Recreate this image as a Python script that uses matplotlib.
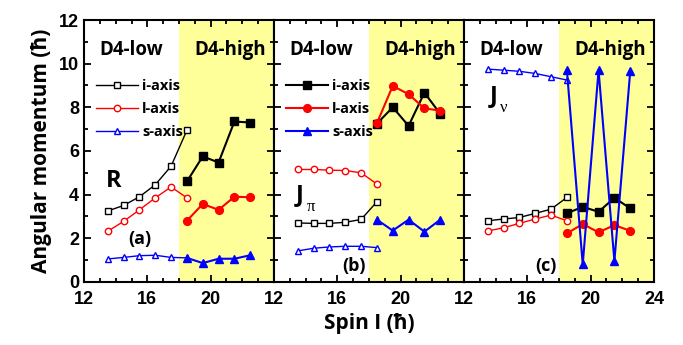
from matplotlib import pyplot as plt
from matplotlib.ticker import MultipleLocator

plt.rcParams['font.family'] = ['Open Sans', 'DejaVu Sans']
plt.rcParams['font.weight'] = 'bold'

# Spin values
spin_low = [13.5, 14.5, 15.5, 16.5, 17.5, 18.5]
spin_high = [18.5, 19.5, 20.5, 21.5, 22.5]

# (a) R
r_i_low = [3.25, 3.5, 3.9, 4.45, 5.3, 6.95]
r_l_low = [2.32, 2.77, 3.3, 3.85, 4.35, 3.85]
r_s_low = [1.05, 1.12, 1.2, 1.22, 1.12, 1.1]
r_i_high = [4.6, 5.75, 5.47, 7.35, 7.3]
r_l_high = [2.8, 3.57, 3.3, 3.9, 3.88]
r_s_high = [1.1, 0.86, 1.06, 1.06, 1.22]

# (b) J_pi
jp_i_low = [2.7, 2.68, 2.68, 2.73, 2.86, 3.67]
jp_l_low = [5.15, 5.15, 5.12, 5.1, 5.0, 4.48]
jp_s_low = [1.42, 1.54, 1.6, 1.63, 1.63, 1.57]
jp_i_high = [7.25, 8.0, 7.15, 8.67, 7.7]
jp_l_high = [7.27, 8.98, 8.6, 7.95, 7.85]
jp_s_high = [2.85, 2.35, 2.85, 2.3, 2.85]

# (c) J_nu
jn_i_low = [2.8, 2.88, 2.95, 3.14, 3.33, 3.87]
jn_l_low = [2.33, 2.48, 2.68, 2.88, 3.06, 2.8]
jn_s_low = [9.75, 9.7, 9.65, 9.55, 9.4, 9.25]
jn_i_high = [3.14, 3.44, 3.21, 3.85, 3.37]
jn_l_high = [2.22, 2.65, 2.27, 2.6, 2.34]
jn_s_high = [9.7, 0.8, 9.7, 0.95, 9.65]

panels = [
    ('R', None, '(a)', (r_i_low, r_l_low, r_s_low), (r_i_high, r_l_high, r_s_high)),
    ('J', 'π', '(b)', (jp_i_low, jp_l_low, jp_s_low), (jp_i_high, jp_l_high, jp_s_high)),
    ('J', 'ν', '(c)', (jn_i_low, jn_l_low, jn_s_low), (jn_i_high, jn_l_high, jn_s_high)),
]
names = ['i-axis', 'l-axis', 's-axis']
clrs = ['black', 'red', 'blue']
mks = ['s', 'o', '^']
ms_open = [4.0, 4.6, 4.6]
ms_fill = [5.2, 5.6, 5.8]

# positions of the panel labels (x, y) in data units
name_pos = [(13.85, 4.6), (13.6, 4.0), (13.85, 8.5)]
tag_pos = [(15.55, 1.97), (17.05, 0.72), (17.2, 0.72)]

fig = plt.figure(figsize=(6.83, 3.45), dpi=100)
left, right, bottom, top = 0.123, 0.9575, 0.183, 0.942
w = (right - left) / 3

for k, (name, sub, tag, low, high) in enumerate(panels):
    ax = fig.add_axes([left + k * w, bottom, w, top - bottom])
    ax.axvspan(18, 24, color='#FFFF99', zorder=0, lw=0)
    h = []
    for j in range(3):
        ln, = ax.plot(spin_low, low[j], color=clrs[j], marker=mks[j], ms=ms_open[j],
                      mfc='white', mec=clrs[j], mew=1.0, lw=1.0)
        ln2, = ax.plot(spin_high, high[j], color=clrs[j], marker=mks[j], ms=ms_fill[j],
                       mfc=clrs[j], mec=clrs[j], lw=1.5)
        h.append((ln, ln2))
    ax.set_xlim(12, 24)
    ax.set_ylim(0, 12)
    ax.set_xticks([12, 16, 20, 24])
    ax.set_xticklabels(['12', '16', '20', '24' if k == 2 else ''])
    ax.xaxis.set_minor_locator(MultipleLocator(1))
    ax.yaxis.set_major_locator(MultipleLocator(2))
    ax.yaxis.set_minor_locator(MultipleLocator(1))
    ax.tick_params(which='both', direction='in', top=True, right=True, width=1.3)
    ax.tick_params(which='major', length=5, labelsize=13)
    ax.tick_params(axis='x', which='major', pad=6.5)
    ax.tick_params(which='minor', length=3)
    for s in ax.spines.values():
        s.set_linewidth(1.5)
    if k > 0:
        ax.set_yticklabels([])
    for lab in ax.get_xticklabels() + ax.get_yticklabels():
        lab.set_fontweight('bold')
        lab.set_family(['Liberation Sans', 'DejaVu Sans'])
    ax.text(13.0, 10.62, 'D4-low', fontsize=13.5, fontweight='bold', va='center')
    ax.text(19.0, 10.62, 'D4-high', fontsize=13.5, fontweight='bold', va='center')
    if k < 2:
        idx = 0 if k == 0 else 1
        ax.legend([p[idx] for p in h], names, loc='upper left', bbox_to_anchor=(0.03, 0.797),
                  frameon=False, fontsize=10.5, handlelength=2.9, labelspacing=0.62,
                  handletextpad=0.3, borderaxespad=0.2, borderpad=0.2)
    nx, ny = name_pos[k]
    ax.text(nx, ny, name, fontsize=17, fontweight='bold', va='center', ha='center')
    if sub is not None:
        ax.text(nx + 0.45, ny - 0.55, sub, fontsize=12, fontweight='normal', va='center',
                ha='left', family=['Liberation Serif', 'DejaVu Serif'])
    tx, ty = tag_pos[k]
    ax.text(tx, ty, tag, fontsize=13, fontweight='bold', va='center', ha='center')
    if k == 1:
        ax.set_xlabel('Spin I (ħ)', fontsize=15, fontweight='bold', labelpad=4)
    if k == 0:
        ax.set_ylabel('Angular momentum (ħ)', fontsize=15, fontweight='bold', labelpad=5)

fig.savefig('out.png', dpi=100)
